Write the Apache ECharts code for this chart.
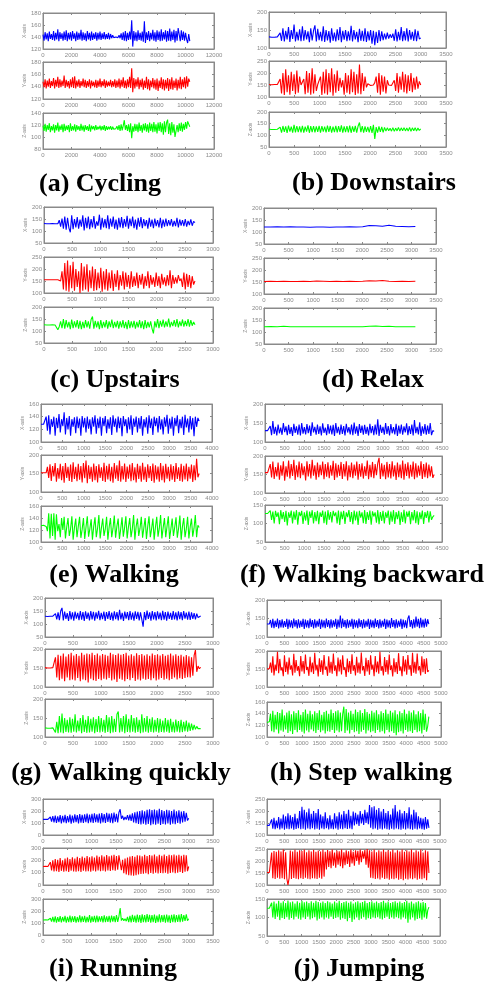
<!DOCTYPE html>
<html><head><meta charset="utf-8">
<script src="https://cdn.jsdelivr.net/npm/echarts@6/dist/echarts.min.js"></script>
<style>html,body{margin:0;padding:0;background:#fff;}#c{width:487px;height:986px;}</style>
</head><body><div id="c"></div>
<script>
// ---------------- DATA ----------------
const panelTitles = ['(a) Cycling','(b) Downstairs','(c) Upstairs','(d) Relax','(e) Walking','(f) Walking backward','(g) Walking quickly','(h) Step walking','(i) Running','(j) Jumping'];
const axisNames = ['X-axis','Y-axis','Z-axis'];
const signalLengths = [10300, 3000, 2680, 3080, 3700, 4300, 2780, 4650, 3000, 4680];
const xAxisMax = [12000, 3500, 3000, 3500, 4000, 4500, 3000, 5000, 3500, 5000];
const xAxisStep = [2000, 500, 500, 500, 500, 500, 500, 500, 500, 500];
// [min, max, interval] for the X / Y / Z sub-plots of each panel
const yAxisTicks = [
  [[120,180,20],[120,180,20],[80,140,20]],
  [[100,200,50],[100,250,50],[50,200,50]],
  [[50,200,50],[100,250,50],[50,200,50]],
  [[50,200,50],[100,250,50],[50,200,50]],
  [[100,160,20],[100,200,50],[100,160,20]],
  [[100,200,50],[100,200,50],[50,150,50]],
  [[50,200,50],[100,200,50],[100,200,50]],
  [[100,200,50],[100,200,50],[100,160,20]],
  [[0,300,100],[0,300,100],[0,300,100]],
  [[100,250,50],[100,250,50],[50,150,50]]
];

const cyclingX = [144,134,148,136,146,133,149,137,145,135,150,134,147,136,153,133,148,137,146,134,149,135,151,133,147,136,148,134,150,137,146,133,149,135,147,136,152,134,148,135,146,133,150,136,147,134,149,135,146,137,148,134,147,136,149,135,146,137,148,136,145,137,147,136,145,138,143,139,142,140,142,139,143,138,146,135,148,134,150,133,147,135,149,136,168,124,150,134,148,133,151,135,147,134,149,132,166,130,148,135,150,133,147,136,152,134,148,132,151,135,149,133,153,134,148,136,151,132,150,134,154,133,149,135,152,131,150,134,155,157,133,151,135,149,134,147,136,130,145,133];
const cyclingY = [148,139,152,137,150,140,153,138,149,141,154,137,151,140,156,138,152,139,150,141,158,138,151,140,149,137,152,139,155,138,157,137,150,140,152,138,149,141,153,139,151,138,149,140,152,137,150,141,148,139,151,138,150,140,153,139,149,141,152,138,150,140,148,141,151,139,149,140,152,138,150,139,153,137,151,140,155,138,150,137,152,139,156,138,170,131,154,137,152,140,155,136,151,139,153,135,150,138,156,136,152,134,150,139,154,137,151,135,153,133,150,138,155,136,152,134,151,137,154,133,152,136,155,135,150,138,153,134,151,137,156,136,152,139,155,137,157,140,153,148];
const cyclingZ = [119,110,122,109,120,112,123,108,118,111,121,107,120,111,124,109,119,112,121,108,122,110,119,112,120,108,123,110,118,111,121,109,120,112,118,110,122,111,119,109,120,112,118,110,121,109,119,113,118,111,120,112,117,113,119,111,118,112,120,110,118,112,117,113,118,112,117,113,116,114,118,112,120,110,121,111,119,128,112,120,110,121,108,123,98,118,109,122,110,121,108,124,110,120,107,122,111,123,109,121,107,124,110,122,108,125,109,121,106,124,110,125,108,123,104,126,108,124,129,105,123,103,125,107,121,100,97,120,108,123,110,124,109,122,112,125,114,126,128,117];

const downstairsX = [131,130,130,131,130,130,131,130,142,120,155,118,148,124,158,117,150,125,165,118,145,121,152,119,160,120,150,124,146,116,155,121,148,163,118,153,122,145,119,160,117,150,121,147,115,155,120,143,118,152,122,158,116,148,123,150,119,146,121,162,118,150,124,145,116,153,120,148,119,155,117,146,121,150,112,148,108,145,114,150,119,146,122,140,124,143,126,138,128,140,120,152,118,145,122,158,119,147,121,155,118,150,123,145,120,152,119,148,125,128];
const downstairsY = [152,152,151,152,152,151,152,152,175,115,200,108,215,120,190,110,205,125,195,112,210,118,185,150,148,175,112,208,118,200,110,220,115,195,125,152,148,185,108,205,115,215,110,200,120,220,105,195,118,210,125,180,140,170,110,200,118,190,112,215,120,205,108,195,115,235,112,200,125,185,140,155,150,148,152,150,160,185,118,200,110,190,122,185,115,170,150,152,148,150,170,125,200,118,185,130,205,120,195,115,190,125,200,120,180,130,185,135,165,150];
const downstairsZ = [126,125,125,126,125,125,126,125,135,112,140,115,138,110,142,116,137,112,145,113,140,114,138,113,141,112,137,116,143,111,139,114,140,113,138,115,141,112,139,116,137,113,142,115,140,112,137,114,141,113,139,115,143,112,138,114,140,113,142,111,138,115,141,112,139,155,114,140,112,138,115,136,113,140,110,145,85,135,112,138,115,136,113,134,118,132,120,130,118,133,117,131,119,134,118,132,120,133,119,131,118,134,117,132,120,133,118,131,121,128];

const upstairsX = [131,130,130,131,130,130,131,130,130,131,130,145,118,152,110,160,105,155,112,95,165,108,150,115,158,110,148,118,165,102,155,112,160,108,150,115,162,110,140,122,168,105,155,115,150,112,165,108,152,118,160,110,148,105,155,115,158,112,150,118,163,110,152,120,160,112,148,105,155,118,158,112,150,120,145,110,155,118,148,112,152,120,145,115,155,112,148,118,152,120,145,122,150,118,142,120,155,115,148,122,145,120,150,118,142,125,148,122,140,135];
const upstairsY = [155,155,155,156,155,155,155,156,155,155,155,154,150,190,115,225,110,235,105,215,120,230,110,200,125,190,100,225,110,210,115,220,105,195,120,210,108,200,112,185,120,205,105,190,115,200,110,185,120,195,108,180,125,195,112,175,130,190,115,185,125,175,118,190,125,170,130,185,120,175,135,180,118,170,130,190,120,175,135,165,125,185,130,170,120,180,135,165,128,175,132,195,120,175,138,165,140,175,150,160,125,185,115,180,125,175,120,170,135,150];
const upstairsZ = [126,125,125,126,125,125,126,125,125,126,105,118,140,112,150,110,145,115,138,108,148,112,140,115,145,110,142,108,138,112,145,115,140,110,148,160,110,142,115,140,108,145,112,138,115,145,110,140,116,148,112,138,115,142,110,140,115,145,112,138,108,145,112,140,115,142,110,138,115,145,112,140,108,145,112,138,115,140,110,90,140,115,150,112,142,118,148,115,140,118,152,115,138,120,145,118,150,115,140,120,148,118,142,120,150,118,145,122,138,126];

const relaxX = [121,121,122,121,122,121,121,120,121,121,120,121,121,122,121,122,127,126,124,128,124,123,122,123];
const relaxY = [152,153,152,153,152,152,153,152,154,153,152,153,152,153,152,153,155,154,156,153,152,153,152,153];
const relaxZ = [122,123,122,124,122,122,122,122,122,122,122,122,122,122,122,122,124,125,123,124,122,122,122,122];

const walkingX = [128,128,128,129,140,118,142,112,136,124,140,110,138,122,144,115,136,125,147,112,138,120,141,110,136,124,139,114,140,122,137,110,141,123,138,115,140,121,136,112,139,124,142,113,137,122,140,110,138,125,141,114,136,121,139,111,142,124,137,115,140,122,138,109,141,125,136,114,139,120,142,111,137,124,140,115,138,121,141,110,136,123,139,113,142,122,137,111,140,125,138,115,141,120,136,112,139,124,143,113,137,121,140,110,138,125,142,114,136,122,140,111,143,123,137,115,141,120,138,109,140,124,138,133];
const walkingY = [152,152,152,153,152,168,138,175,130,170,142,178,128,165,136,176,132,170,125,178,138,168,130,174,127,180,135,168,129,176,133,170,126,178,137,185,124,172,135,168,128,177,132,170,126,175,138,167,130,179,127,171,134,176,129,168,125,178,136,172,130,185,128,170,134,177,127,169,136,174,129,178,132,167,126,176,135,171,128,179,133,168,127,175,137,170,130,177,125,172,134,169,128,178,132,171,126,176,136,168,129,175,133,170,127,178,135,167,130,176,128,171,134,177,129,168,136,174,127,172,132,190,140,150];
const walkingZ = [127,127,128,127,126,118,148,106,147,110,148,104,146,118,130,108,140,120,142,106,125,140,110,122,143,104,124,139,108,126,142,107,121,140,105,125,143,109,122,138,104,126,141,108,123,145,106,124,139,110,122,142,104,125,140,108,123,144,107,126,139,105,122,141,109,124,143,106,125,140,108,122,145,104,126,139,110,123,142,107,124,140,105,126,143,108,122,139,104,125,142,109,123,145,106,124,140,108,126,143,105,122,139,110,125,141,107,123,144,104,126,140,108,122,142,106,125,139,109,123,145,108,128,124];

const backwardX = [130,130,130,130,142,118,155,121,140,117,146,123,138,119,150,126,141,118,145,121,139,116,148,124,141,119,146,117,150,122,139,120,147,123,143,116,152,125,140,119,146,121,141,117,149,124,138,118,147,122,143,120,145,116,150,123,140,119,146,121,142,117,148,125,139,120,146,118,151,122,141,116,147,124,143,119,145,121,140,117,148,123,142,118,146,120,160,116,145,124,140,119,150,121,142,117,147,123,139,120,148,116,143,122,146,119,141,125,149,118,142,121,146,117,158,123,140,120,152,116,141,122,147,119,143,121,150,118,130,128];
const backwardY = [155,155,155,155,178,142,185,138,170,145,182,136,175,147,186,133,172,144,188,139,178,146,190,135,175,143,185,140,180,148,172,134,186,145,178,139,190,147,175,136,182,143,176,148,185,137,178,144,183,140,175,147,187,135,180,142,176,146,184,138,178,145,186,134,175,143,182,140,177,147,185,136,178,144,180,139,172,146,188,137,176,143,184,140,178,148,181,195,138,180,145,176,137,184,142,178,139,186,145,175,135,182,143,177,140,188,136,179,146,183,139,176,144,185,137,180,142,174,147,186,138,178,143,182,140,177,145,172,141,150];
const backwardZ = [127,127,127,127,135,110,132,100,134,118,130,98,136,112,131,104,134,95,130,115,135,100,132,110,136,97,131,120,134,99,130,108,135,96,132,115,136,100,131,106,134,98,130,118,135,101,132,97,136,110,131,103,134,120,130,100,135,96,132,112,134,99,130,117,136,104,131,98,135,108,132,96,134,116,130,101,136,99,131,110,135,97,133,119,130,102,136,98,131,107,134,100,130,115,135,97,132,105,136,99,131,112,134,96,130,104,137,100,132,118,134,98,131,108,136,101,133,97,130,112,135,99,131,115,134,103,133,110,118,122];

const quicklyX = [130,130,129,130,130,131,130,130,140,118,145,115,150,162,114,148,120,142,112,150,118,145,113,148,121,143,115,150,117,146,112,149,120,144,114,150,118,147,113,145,121,151,115,143,119,148,112,146,120,150,116,144,113,149,119,146,114,155,118,143,112,148,121,146,115,150,117,144,113,149,120,147,114,145,118,90,146,115,152,120,145,113,150,118,146,114,149,119,144,115,151,117,146,113,148,120,143,116,150,118,145,114,149,119,146,115,150,121,144,117,148,116,145,120,142,118,140,125,132,131];
const quicklyY = [151,150,150,151,150,150,151,150,178,125,185,118,182,122,188,115,180,125,186,118,190,120,183,117,187,124,182,115,190,120,185,118,188,112,186,122,190,118,184,116,188,121,183,118,187,122,185,120,182,124,190,117,186,120,184,113,188,122,185,119,187,115,190,121,183,118,186,124,182,116,189,120,184,117,187,122,183,119,186,121,182,118,188,123,184,117,186,120,183,124,187,119,182,122,185,118,188,121,183,125,186,120,182,123,185,121,180,124,184,126,181,125,178,130,183,197,140,155,148,152];
const quicklyZ = [124,123,123,124,123,123,124,123,112,140,110,155,112,162,110,150,113,145,112,152,111,148,114,160,112,143,115,150,110,158,113,145,111,155,112,148,114,152,110,147,113,155,112,150,114,145,111,158,113,152,110,155,112,148,113,160,167,112,150,114,155,110,160,113,148,112,158,114,150,111,152,113,145,110,160,112,150,114,155,111,148,113,152,112,145,114,150,111,148,113,143,112,150,114,145,111,148,113,140,112,146,114,142,112,145,113,140,115,143,114,138,116,135,118,132,120,128,122,121,122];

const stepX = [135,135,135,146,125,149,124,144,127,150,123,146,126,148,125,143,127,149,122,147,126,145,124,150,128,146,123,148,125,144,127,149,122,147,126,145,124,150,127,146,123,148,125,144,128,149,122,147,126,145,124,150,127,146,123,148,125,145,128,149,122,147,126,158,124,150,127,146,123,148,125,145,128,149,122,147,126,145,124,150,127,146,123,148,125,144,128,149,122,147,126,145,124,150,127,146,123,148,125,144,128,149,122,147,126,145,124,151,127,146,123,148,125,144,128,149,122,147,126,145,124,150,158,127,146,123,148,125,155,128,149,124,152,126,147,125,150,128,148,135];
const stepY = [150,150,151,168,140,185,132,162,145,198,138,178,146,155,130,188,142,170,135,182,148,160,132,192,140,175,145,158,130,186,143,172,137,190,147,156,131,184,141,168,136,195,146,162,129,180,142,174,134,189,148,157,131,185,140,170,137,193,145,160,130,182,143,176,135,188,147,155,128,179,141,172,136,191,145,161,132,184,140,168,137,196,146,158,131,181,143,175,134,188,148,162,130,186,141,171,137,198,145,158,132,183,142,175,135,190,147,160,129,180,141,169,136,194,145,157,130,186,143,176,134,189,148,161,131,195,140,170,137,193,146,158,132,185,141,178,136,180,142,146];
const stepZ = [125,125,126,140,110,145,108,138,113,143,106,141,111,147,109,137,113,142,107,145,110,139,105,144,112,141,108,146,112,138,109,143,106,147,111,140,108,145,113,139,110,144,107,141,112,146,108,138,111,143,106,145,110,140,109,147,112,141,107,144,111,146,108,142,110,139,152,107,148,111,142,106,145,112,140,108,147,110,143,105,146,109,141,112,148,106,143,111,140,108,145,110,142,107,146,112,139,108,144,110,141,106,147,112,140,108,145,110,142,107,146,103,139,108,144,110,141,106,147,112,140,109,145,110,142,107,146,112,139,108,144,110,141,106,147,112,140,109,118,135];

const runningX = [130,130,131,130,130,131,150,112,158,105,162,100,155,108,165,96,160,104,168,98,158,106,170,95,162,102,172,108,165,97,175,103,168,100,172,106,178,98,170,104,176,100,180,107,172,102,178,96,182,105,175,100,185,108,178,103,180,98,186,110,176,104,188,215,135,160,125,150,128,165,122,170,118,180,105,190,98,195,92,200,88,205,95,198,85,210,92,215,82,208,90,212,86,205,95,218,84,208,92,200,88,210,96,205,85,200,95,212,90,198,100,205,95,195,105,200,110,185,120,140];
const runningY = [150,151,152,165,150,150,185,118,200,110,210,112,205,105,218,115,200,108,215,112,222,106,210,115,225,110,215,108,228,112,218,105,230,115,220,110,235,112,225,108,232,115,222,110,238,118,228,112,240,116,230,110,242,118,232,113,238,120,245,115,235,125,240,250,120,205,95,215,85,222,80,230,78,235,75,228,80,240,85,238,90,232,92,245,95,235,88,242,98,238,92,246,100,232,94,244,98,236,95,248,100,235,92,245,97,240,102,246,95,238,100,244,105,236,98,245,108,240,112,150];
const runningZ = [125,125,126,125,125,126,140,112,150,108,155,104,148,110,158,106,150,112,160,102,152,108,162,105,155,110,158,103,150,108,163,106,155,110,160,104,152,108,165,102,156,110,160,105,162,108,155,112,158,104,164,108,155,110,160,106,162,112,158,108,165,110,155,225,120,140,118,135,115,150,108,160,104,168,110,162,102,170,106,165,100,172,108,165,104,175,110,168,102,165,106,170,100,162,108,172,104,165,110,168,102,170,106,164,100,168,108,172,104,165,110,170,106,175,112,165,118,172,120,135];

const jumpingX = [140,140,140,139,165,126,172,124,160,128,175,123,168,127,185,122,178,126,190,124,182,127,175,122,188,125,170,128,200,124,218,126,205,122,195,127,210,124,188,128,200,123,192,126,208,122,185,127,178,124,195,128,170,123,182,126,165,124,190,127,178,122,195,126,185,124,200,128,188,125,205,127,180,124,198,140,192,145,185,138,200,148,188,142,205,150,195,145,225,130,215,124,220,127,205,122,212,126,198,123,208,127,192,124,200,122,185,126,210,123,225,127,198,124,205,122,190,126,200,123,192,127,215,124,185,122,205,126,195,123,178,127,172,124,168,122,175,126,165,130];
const jumpingY = [152,152,152,151,235,128,242,125,238,130,245,126,240,128,248,124,236,127,100,130,244,125,240,129,247,126,238,124,245,128,242,125,248,130,236,126,245,124,240,128,247,127,238,125,244,130,240,126,248,135,238,165,246,175,240,170,248,180,235,172,244,185,240,178,248,170,236,182,245,188,240,175,248,190,238,180,245,200,242,185,248,195,240,210,246,185,250,172,245,130,240,128,248,125,236,127,245,123,240,130,248,125,238,127,245,122,240,126,248,124,235,128,245,122,240,125,248,120,238,126,245,123,240,127,248,124,236,128,245,122,240,126,248,124,235,128,245,120,240,150];
const jumpingZ = [125,125,125,126,140,100,143,96,138,102,145,93,140,99,144,96,139,101,146,94,141,99,143,95,138,102,144,97,140,94,145,100,141,96,143,102,139,95,144,98,140,101,145,92,142,97,140,100,143,95,139,100,144,97,141,102,138,96,143,99,140,101,145,94,139,98,142,96,144,90,140,99,143,88,138,95,141,100,144,93,140,97,142,101,145,94,139,98,142,96,144,100,140,98,143,101,139,97,142,95,145,99,140,102,143,96,139,100,142,97,144,101,140,98,143,95,139,100,142,97,145,86,140,95,143,100,138,92,141,96,144,98,140,94,142,100,139,97,120,128];

const panelSignals = [
  [cyclingX, cyclingY, cyclingZ],
  [downstairsX, downstairsY, downstairsZ],
  [upstairsX, upstairsY, upstairsZ],
  [relaxX, relaxY, relaxZ],
  [walkingX, walkingY, walkingZ],
  [backwardX, backwardY, backwardZ],
  [quicklyX, quicklyY, quicklyZ],
  [stepX, stepY, stepZ],
  [runningX, runningY, runningZ],
  [jumpingX, jumpingY, jumpingZ]
];

// ---------------- LAYOUT ----------------
const layLeft  = [43, 269, 44, 264, 41, 265, 45, 267, 43, 267];
const layWidth = [171, 177, 169, 172, 171, 177, 168, 174, 170, 173];
const layTops  = [[13,62,113],[12,61,112],[207,257,307],[208,258,308],[404,455,506],[404,456,505],[598,649,699],[600,651,702],[799,848,899],[799,849,899]];
const layHeights = [[36,37,36],[36,36,35],[36,36,36],[36,36,36],[38,37,36],[38,37,37],[39,38,38],[37,36,35],[36,37,36],[36,36,37]];
const titleX = [100, 374, 115, 373, 114, 362, 121, 361, 113, 359];
const titleY = [184, 183, 380, 380, 575, 575, 773, 773, 969, 969];
const lineColors = ['#0000ff', '#ff0000', '#00ff00'];

const grids = [], xAxes = [], yAxes = [], series = [], graphics = [];
const axisGray = '#8a8a8a', labelGray = '#8a8a8a';
const lblFont = 'Liberation Sans';
const plain = v => String(v);
let gi = 0;
for (let p = 0; p < 10; p++) {
  for (let k = 0; k < 3; k++) {
    grids.push({left: layLeft[p], top: layTops[p][k], width: layWidth[p], height: layHeights[p][k],
      show: true, borderColor: axisGray, borderWidth: 1, backgroundColor: '#fff', containLabel: false});
    const xa = {type: 'value', gridIndex: gi, min: 0, max: xAxisMax[p], interval: xAxisStep[p],
      axisLine: {show: true, onZero: false, lineStyle: {color: axisGray, width: 1}},
      axisTick: {show: true, inside: true, length: 2, lineStyle: {color: axisGray}},
      axisLabel: {show: true, fontSize: 6, color: labelGray, margin: 3, fontFamily: lblFont, formatter: plain},
      splitLine: {show: false}};
    xAxes.push(xa);
    xAxes.push(Object.assign({}, xa, {position: 'top', axisLabel: {show: false}}));
    const yr = yAxisTicks[p][k];
    const ya = {type: 'value', gridIndex: gi, min: yr[0], max: yr[1], interval: yr[2],
      name: axisNames[k], nameLocation: 'middle', nameGap: 15, nameRotate: 90,
      nameTextStyle: {fontSize: 5, color: labelGray, fontFamily: lblFont},
      axisLine: {show: true, onZero: false, lineStyle: {color: axisGray, width: 1}},
      axisTick: {show: true, inside: true, length: 2, lineStyle: {color: axisGray}},
      axisLabel: {show: true, fontSize: 6, color: labelGray, margin: 2, fontFamily: lblFont, formatter: plain},
      splitLine: {show: false}};
    yAxes.push(ya);
    yAxes.push(Object.assign({}, ya, {position: 'right', name: '', axisLabel: {show: false}}));
    const vals = panelSignals[p][k];
    const step = signalLengths[p] / (vals.length - 1);
    series.push({type: 'line', xAxisIndex: gi * 2, yAxisIndex: gi * 2, showSymbol: false, silent: true,
      clip: true, lineStyle: {color: lineColors[k], width: 1.1}, itemStyle: {color: lineColors[k]},
      data: vals.map((v, i) => [i * step, v])});
    gi++;
  }
  graphics.push({type: 'text', x: titleX[p], y: titleY[p],
    style: {text: panelTitles[p], font: 'bold 26px "Liberation Serif"', fill: '#000',
      textAlign: 'center', textVerticalAlign: 'middle'}});
}

const chart = echarts.init(document.getElementById('c'), null, {renderer: 'canvas'});
chart.setOption({animation: false, backgroundColor: '#fff', grid: grids, xAxis: xAxes, yAxis: yAxes,
  series: series, graphic: graphics});
</script></body></html>
